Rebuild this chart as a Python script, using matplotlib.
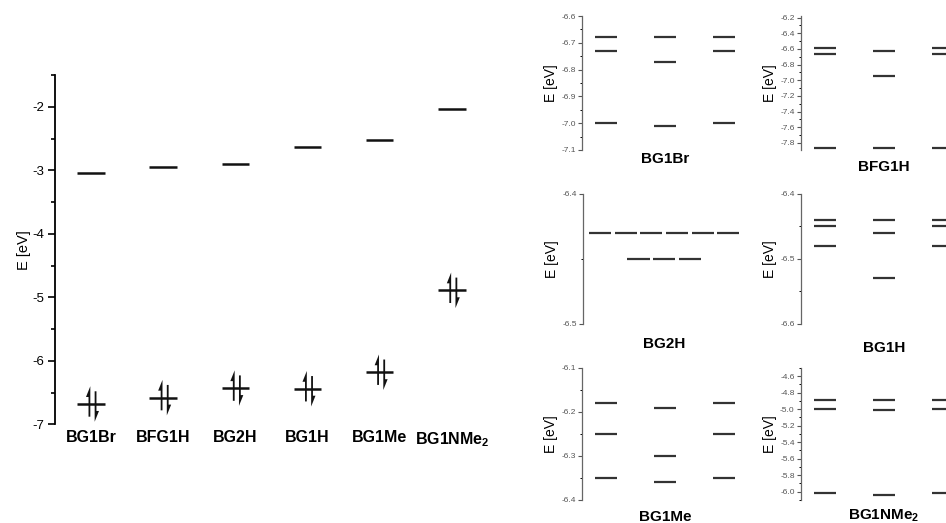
import matplotlib
matplotlib.use('Agg')
import matplotlib.pyplot as plt
from matplotlib.ticker import MultipleLocator

plt.rcParams['font.family'] = ['Liberation Sans', 'DejaVu Sans']
plt.rcParams['mathtext.fontset'] = 'custom'
plt.rcParams['mathtext.rm'] = 'Liberation Sans'
plt.rcParams['mathtext.bf'] = 'Liberation Sans:bold'
plt.rcParams['axes.unicode_minus'] = False

# main diagram: frontier orbital energies (eV)
compounds = ['BG1Br', 'BFG1H', 'BG2H', 'BG1H', 'BG1Me', r'BG1NMe$_\mathbf{2}$']
lumo = [-3.04, -2.95, -2.90, -2.64, -2.52, -2.03]
homo = [-6.68, -6.58, -6.43, -6.44, -6.18, -4.89]

# small panels: occupied orbital energies, one list per column
bg1br = [[-6.68, -6.73, -7.00], [-6.68, -6.77, -7.01], [-6.68, -6.73, -7.00]]
bfg1h = [[-6.59, -6.67, -7.86], [-6.63, -6.95, -7.86], [-6.59, -6.67, -7.86]]
bg1h = [[-6.44, -6.45, -6.48], [-6.44, -6.46, -6.53], [-6.44, -6.45, -6.48]]
bg1me = [[-6.18, -6.25, -6.35], [-6.19, -6.30, -6.36], [-6.18, -6.25, -6.35]]
bg1nme2 = [[-4.89, -5.00, -6.02], [-4.89, -5.01, -6.04], [-4.89, -5.00, -6.02]]
bg2h_x = [0, 1, 2, 3, 4, 5, 1.5, 2.5, 3.5]
bg2h_e = [-6.43, -6.43, -6.43, -6.43, -6.43, -6.43, -6.45, -6.45, -6.45]

fig = plt.figure(figsize=(9.46, 5.23), dpi=100)

# ---- main panel ----
ax = fig.add_axes([0.0581, 0.1887, 0.4577, 0.6679])
xs = range(len(compounds))
ax.hlines(lumo, [x - 0.19 for x in xs], [x + 0.19 for x in xs], color='#111', lw=1.8)
ax.hlines(homo, [x - 0.19 for x in xs], [x + 0.19 for x in xs], color='#111', lw=1.8)
# paired electrons: half-headed up/down arrows on each HOMO
for i, e in enumerate(homo):
    ax.arrow(i - 0.01, e - 0.2, 0, 0.48, shape='right', width=0.05, head_width=0.12,
             head_length=0.17, length_includes_head=True, color='#111', lw=0)
    ax.arrow(i + 0.05, e + 0.2, 0, -0.48, shape='right', width=0.05, head_width=0.12,
             head_length=0.17, length_includes_head=True, color='#111', lw=0)
ax.set_xlim(-0.5, 5.5)
ax.set_ylim(-7, -1.5)
ax.yaxis.set_major_locator(MultipleLocator(1))
ax.yaxis.set_minor_locator(MultipleLocator(0.5))
for s in ['top', 'right', 'bottom']:
    ax.spines[s].set_visible(False)
ax.spines['left'].set_linewidth(1.3)
ax.tick_params(axis='y', direction='out', length=5, width=1.2, labelsize=9.5, pad=3)
ax.tick_params(axis='y', which='minor', direction='out', length=3, width=1.2)
ax.set_xticks(list(xs))
ax.set_xticklabels(compounds, fontsize=11.5, fontweight='bold')
ax.tick_params(axis='x', length=0, pad=4)
ax.set_ylabel('E [eV]', fontsize=10.5, labelpad=1)


def small_panel(rect, cols, ylim, major, minor, name, name_y):
    a = fig.add_axes(rect)
    for j, col in enumerate(cols):
        a.hlines(col, j - 0.19, j + 0.19, color='#333', lw=1.6)
    a.set_xlim(-0.407, 2.61)
    finish(a, ylim, major, minor, name, 1, name_y)
    return a


def finish(a, ylim, major, minor, name, name_x, name_y):
    a.set_ylim(*ylim)
    a.yaxis.set_major_locator(MultipleLocator(major))
    a.yaxis.set_minor_locator(MultipleLocator(minor))
    a.yaxis.set_major_formatter(matplotlib.ticker.FormatStrFormatter('%.1f'))
    for s in ['top', 'right', 'bottom']:
        a.spines[s].set_visible(False)
    a.spines['left'].set_color('#666')
    a.spines['left'].set_linewidth(0.9)
    a.set_xticks([])
    a.tick_params(axis='y', direction='out', length=3, width=0.8, labelsize=6,
                  colors='#555', pad=1.5)
    a.tick_params(axis='y', which='minor', direction='out', length=1.5, width=0.7)
    a.set_ylabel('E [eV]', fontsize=10, labelpad=2)
    a.text(name_x, name_y, name, transform=a.get_xaxis_transform(), ha='center',
           va='center', fontsize=11, fontweight='bold')


lx, rx, w = 0.6152, 0.8467, 0.1882
small_panel([lx, 0.7132, w, 0.2562], bg1br, (-7.1, -6.6), 0.1, 0.05, 'BG1Br', -0.065)
small_panel([rx, 0.7132, w, 0.2562], bfg1h, (-7.89, -6.18), 0.2, 0.1, 'BFG1H', -0.13)

a2 = fig.add_axes([0.6163, 0.3805, w, 0.2486])
a2.hlines(bg2h_e, [x - 0.43 for x in bg2h_x], [x + 0.43 for x in bg2h_x], color='#333', lw=1.6)
a2.set_xlim(-0.66, 6.27)
finish(a2, (-6.5, -6.4), 0.1, 0.05, 'BG2H', 2.5, -0.15)

small_panel([rx, 0.3805, w, 0.2486], bg1h, (-6.6, -6.4), 0.1, 0.05, 'BG1H', -0.185)
small_panel([lx, 0.0440, w, 0.2524], bg1me, (-6.4, -6.1), 0.1, 0.05, 'BG1Me', -0.13)
small_panel([rx, 0.0440, w, 0.2524], bg1nme2, (-6.1, -4.5), 0.2, 0.1,
            r'BG1NMe$_\mathbf{2}$', -0.115)

fig.savefig('out.png', dpi=100)
